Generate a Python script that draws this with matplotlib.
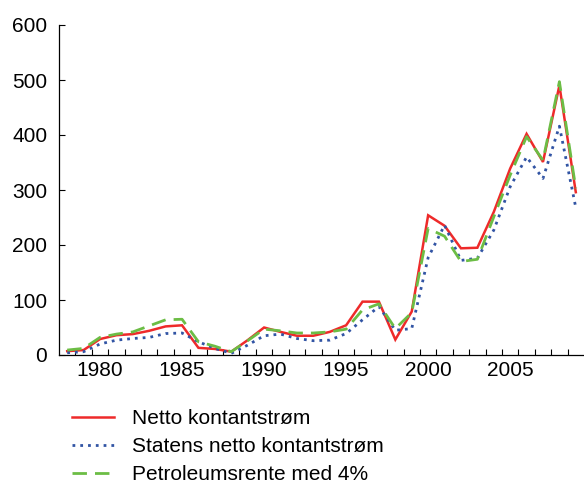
import numpy as np
import matplotlib
matplotlib.use("Agg")
import matplotlib.pyplot as plt

plt.rcParams['font.family'] = ['Liberation Sans', 'DejaVu Sans']

years = np.arange(1978, 2010)

netto = [7, 9, 29, 36, 38, 44, 52, 54, 13, 11, 6, 27, 50, 42, 35, 35, 42, 54,
         97, 97, 28, 79, 254, 235, 194, 195, 260, 339, 402, 351, 490, 296]
statens = [4, 6, 20, 27, 30, 32, 39, 40, 24, 12, 3, 18, 35, 38, 30, 26, 27, 39,
           64, 88, 45, 48, 177, 236, 172, 176, 227, 306, 360, 321, 416, 268]
petro = [9, 12, 32, 38, 42, 53, 64, 65, 24, 16, 6, 26, 47, 44, 40, 40, 42, 47,
         82, 93, 48, 77, 230, 216, 170, 174, 251, 327, 397, 354, 497, 303]

labels = ["Netto kontantstrøm", "Statens netto kontantstrøm", "Petroleumsrente med 4%"]

fig = plt.figure(figsize=(5.84, 4.82), dpi=100)
ax = fig.add_axes([59 / 584, 127 / 482, 525 / 584, 330 / 482])

l1, = ax.plot(years, netto, color='#ee2a2a', lw=1.8, solid_joinstyle='miter')
l2, = ax.plot(years, statens, color='#3154a4', lw=2.0, dashes=(1, 1.8),
              dash_capstyle='butt')
l3, = ax.plot(years, petro, color='#6cbd45', lw=2.0, dashes=(5.2, 2.9),
              dash_capstyle='butt')

ax.set_xlim(1977.5, 2009.5)
ax.set_ylim(0, 600)
ax.set_yticks(range(0, 601, 100))
ax.set_xticks([1980, 1985, 1990, 1995, 2000, 2005])
ax.set_xticks(np.arange(1978.5, 2009.5, 1), minor=True)
ax.tick_params(axis='x', which='major', length=0, pad=4, labelsize=15)
ax.tick_params(axis='x', which='minor', direction='in', length=4, width=0.8)
ax.tick_params(axis='y', direction='in', length=4, width=0.8, pad=8.5, labelsize=15)

for s in ['top', 'right']:
    ax.spines[s].set_visible(False)
for s in ['left', 'bottom']:
    ax.spines[s].set_linewidth(0.9)

fig.legend([l1, l2, l3], labels, loc='upper left', bbox_to_anchor=(72 / 584, 1 - 409 / 482),
           frameon=False, fontsize=15, handlelength=2.0, handletextpad=0.9,
           labelspacing=0.43, borderpad=0, borderaxespad=0)

fig.savefig("out.png", dpi=100)
